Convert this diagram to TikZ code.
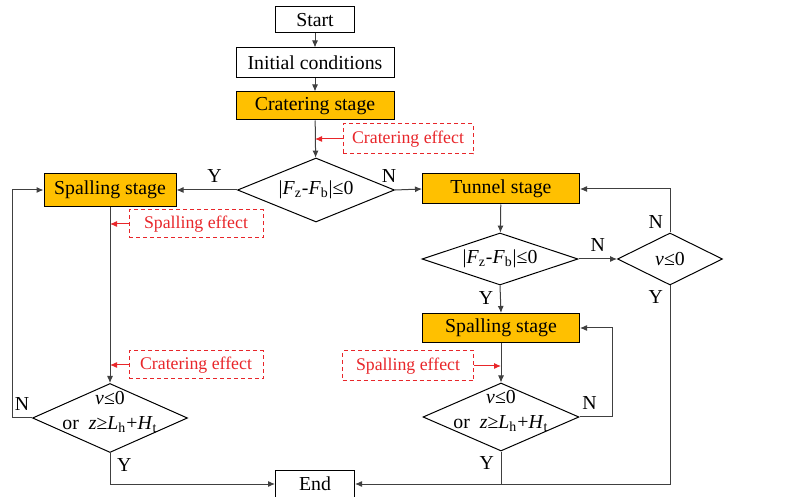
\documentclass[tikz,border=0pt]{standalone}
\usepackage{fontspec}
\setmainfont{Liberation Serif}
\usetikzlibrary{shapes.geometric,arrows.meta}
\definecolor{stageorange}{HTML}{FFC000}
\definecolor{effectred}{HTML}{E8262A}
\definecolor{linegray}{HTML}{404040}

\begin{document}
\begin{tikzpicture}[x=0.5pt, y=-0.5pt, node distance=21.5pt,
  font=\fontsize{9.9}{12.5}\selectfont,
  >={Latex[length=3.5pt,width=3pt]},
  box/.style={draw=black, line width=0.5pt, inner sep=0pt, minimum width=79pt, minimum height=15pt},
  stage/.style={box, fill=stageorange},
  effect/.style={draw=effectred, text=effectred, font=\fontsize{8.9}{10}\selectfont, dash pattern=on 2pt off 1.5pt, line width=0.5pt, inner sep=0pt, minimum width=66pt, minimum height=14.5pt},
  decision/.style={diamond, draw=black, line width=0.5pt, inner sep=0pt},
  flow/.style={->, draw=linegray, line width=0.5pt},
  hit/.style={->, draw=effectred, line width=0.5pt}]

  \useasboundingbox (0,0) rectangle (793,497);

  % Main column
  \node[box, minimum width=39.5pt, minimum height=13pt] (start) at (315,20) {Start};
  \node[box, below of=start] (init) {Initial conditions};
  \node[stage, below of=init, minimum height=14pt] (crat) {Cratering stage};
  \node[decision, minimum width=78.5pt, minimum height=32pt,
        label={center:|\textit{F}\textsubscript{z}-\textit{F}\textsubscript{b}|≤0}] (d1) at (316,190) {};
  \node[box, minimum width=39.5pt, minimum height=14pt] (end) at (315,484) {End};

  % Left branch
  \node[stage, minimum width=66pt, minimum height=16.5pt] (sp1) at (110,190) {Spalling stage};
  \node[decision, minimum width=77.5pt, minimum height=34.5pt,
        label={[align=center, yshift=3pt]center:\textit{v}≤0\\or\ \ \textit{z}≥\textit{L}\textsubscript{h}+\textit{H}\textsubscript{t}}] (d4) at (110,418) {};

  % Right branch
  \node[stage, minimum width=78.5pt] (tun) at (501,189) {Tunnel stage};
  \node[decision, minimum width=78pt, minimum height=26pt,
        label={center:|\textit{F}\textsubscript{z}-\textit{F}\textsubscript{b}|≤0}] (d2) at (500,259) {};
  \node[decision, minimum width=52.5pt, minimum height=26pt,
        label={center:\textit{v}≤0}] (d5) at (670,259) {};
  \node[stage, minimum width=78.5pt, minimum height=14.5pt] (sp2) at (501,328) {Spalling stage};
  \node[decision, minimum width=78pt, minimum height=34pt,
        label={[align=center, yshift=3pt]center:\textit{v}≤0\\or\ \ \textit{z}≥\textit{L}\textsubscript{h}+\textit{H}\textsubscript{t}}] (d3) at (501,417) {};

  % Effects
  \node[effect, minimum width=65pt, minimum height=15pt] (ce1) at (408,139) {Cratering effect};
  \node[effect, minimum width=67pt, minimum height=14pt] (se1) at (196,224) {Spalling effect};
  \node[effect, minimum width=67pt, minimum height=14pt] (ce2) at (196,365) {Cratering effect};
  \node[effect, minimum width=65.5pt, minimum height=15pt] (se2) at (408,366) {Spalling effect};

  % Main arrows
  \draw[flow] (start) -- (init);
  \draw[flow] (init) -- (crat);
  \draw[flow] (crat) -- (d1);
  \draw[flow] (d1.west) -- node[pos=0.37, above] {Y} (sp1.east);
  \draw[flow] (d1.east) -- node[pos=0, above, xshift=-3pt] {N} (tun.west);

  % Left loop
  \draw[flow] (sp1) -- (d4);
  \draw[flow] (d4.west) -- node[above] {N} ++(-20,0) |- (sp1.west);
  \draw[flow] (d4.south) |- node[pos=0.2, right] {Y} (end.west);

  % Right loops
  \draw[flow] (tun) -- (d2);
  \draw[flow] (d2.east) -- node[above] {N} (d5.west);
  \draw[flow] (d5.north) |- node[pos=0.12, left] {N} (tun.east);
  \draw[flow] (d5.south) |- node[pos=0.03, left] {Y} (end.east);
  \draw[flow] (d2.south) -- node[pos=0.45, left] {Y} (sp2.north);
  \draw[flow] (sp2) -- (d3);
  \draw[flow] (d3.east) -- node[pos=0.3, above] {N} ++(33,0) |- (sp2.east);
  \draw[draw=linegray, line width=0.5pt] (d3.south) -- node[pos=0.35, left] {Y} (d3.south |- end);

  % Effect arrows
  \draw[hit] (ce1.west) -- (ce1.west -| crat);
  \draw[hit] (se1.west) -- (se1.west -| sp1);
  \draw[hit] (ce2.west) -- (ce2.west -| sp1);
  \draw[hit] (se2.east) -- (se2.east -| sp2);

\end{tikzpicture}
\end{document}
